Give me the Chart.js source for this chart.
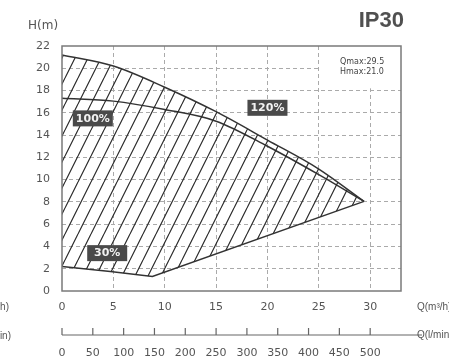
<!DOCTYPE html>
<html>
<head>
<meta charset="utf-8">
<script src="https://cdn.jsdelivr.net/npm/chart.js@4.4.0/dist/chart.umd.min.js"></script>
<style>
  html, body { margin: 0; padding: 0; background: #fff; }
  #wrap { width: 449px; height: 363px; }
</style>
</head>
<body>
<div id="wrap"><canvas id="pump-chart"></canvas></div>
<script>
// flow Q (m3/h) and head H (m)
const flow120 = [0, 5, 10, 15, 20, 25, 29.4]
const head120 = [21.2, 20.2, 18.3, 16.1, 13.55, 10.95, 8.05]
const flow100 = [0, 5, 10, 15, 20, 25, 29.4]
const head100 = [17.3, 17.05, 16.3, 15.25, 13.0, 10.45, 8.05]
const flow30 = [0, 4.7, 8.8, 29.4]
const head30 = [2.2, 1.75, 1.3, 8.05]

// speed tags in the chart
const speedLabels = ['100%', '120%', '30%']
const labelFlow = [3.0, 20.0, 4.4]
const labelHead = [15.5, 16.45, 3.4]

// axis ticks
const headTicks = [0, 2, 4, 6, 8, 10, 12, 14, 16, 18, 20, 22]
const flowTicks = [0, 5, 10, 15, 20, 25, 30]
const lpmTicks = [0, 50, 100, 150, 200, 250, 300, 350, 400, 450, 500]

const modelName = 'IP30'
const qmax = '29.5'
const hmax = '21.0'

const textColor = '#555'
const tickFont = { family: 'DejaVu Sans', size: 11 }

const toPoints = (xs, ys) => xs.map((x, i) => ({ x: x, y: ys[i] }))

// diagonal hatching for the working area
const makeHatch = () => {
    const c = document.createElement('canvas')
    c.width = 13
    c.height = 26
    const g = c.getContext('2d')
    g.strokeStyle = '#2a2a2a'
    g.lineWidth = 1.2
    g.beginPath()
    for (let k = -1; k <= 1; k++) {
        g.moveTo(k * 13, 26)
        g.lineTo(k * 13 + 13, 0)
    }
    g.stroke()
    return g.createPattern(c, 'repeat')
}

const extras = {
    id: 'extras',
    afterDraw(chart) {
        const ctx = chart.ctx
        const area = chart.chartArea
        const xs = chart.scales.x
        const ys = chart.scales.y
        const x2 = chart.scales.x2
        ctx.save()

        // white box behind Qmax / Hmax
        const bx = xs.getPixelForValue(25.2)
        const by = ys.getPixelForValue(18.2)
        ctx.fillStyle = '#fff'
        ctx.fillRect(bx, area.top, area.right - bx, by - area.top)
        ctx.fillStyle = '#444'
        ctx.font = '8px "DejaVu Sans"'
        ctx.textAlign = 'left'
        ctx.textBaseline = 'middle'
        ctx.fillText('Qmax:' + qmax, 340, 62)
        ctx.fillText('Hmax:' + hmax, 340, 72)

        // frame
        ctx.strokeStyle = '#7a7a7a'
        ctx.lineWidth = 1.5
        ctx.strokeRect(area.left, area.top, area.right - area.left, area.bottom - area.top)

        // speed tags
        ctx.font = 'bold 11px "DejaVu Sans"'
        ctx.textAlign = 'center'
        speedLabels.forEach((t, i) => {
            const px = xs.getPixelForValue(labelFlow[i])
            const py = ys.getPixelForValue(labelHead[i])
            ctx.fillStyle = '#4a4a4a'
            ctx.fillRect(px - 20, py - 8, 40, 16)
            ctx.fillStyle = '#f2f2f2'
            ctx.fillText(t, px, py + 0.5)
        })

        // second flow axis line with upward ticks
        const ly = 335
        ctx.strokeStyle = '#666'
        ctx.lineWidth = 1.2
        ctx.beginPath()
        ctx.moveTo(area.left, ly)
        ctx.lineTo(422, ly)
        lpmTicks.forEach(v => {
            const px = x2.getPixelForValue(v)
            ctx.moveTo(px, ly)
            ctx.lineTo(px, ly - 7)
        })
        ctx.stroke()

        // titles
        ctx.fillStyle = textColor
        ctx.textAlign = 'left'
        ctx.font = '10px "Liberation Sans"'
        ctx.fillText('Q(m³/h)', 417, 307)
        ctx.fillText('Q(l/min)', 417, 335)
        ctx.textAlign = 'right'
        ctx.fillText('Q(m³/h)', 9, 307)
        ctx.fillText('Q(l/min)', 11, 336)
        ctx.textAlign = 'left'
        ctx.font = '12px "DejaVu Sans"'
        ctx.fillText('H(m)', 28, 26)
        ctx.font = 'bold 22px "Liberation Sans"'
        ctx.textAlign = 'right'
        ctx.fillStyle = '#505050'
        ctx.fillText(modelName, 404, 21)
        ctx.restore()
    }
}

const hideEdge = (lo, hi) => (c) => {
    const v = c.tick ? c.tick.value : null
    return (v === lo || v === hi) ? 'rgba(0,0,0,0)' : '#aaa'
}

new Chart(document.getElementById('pump-chart'), {
    type: 'line',
    data: {
        datasets: [{
            label: '120%',
            data: toPoints(flow120, head120),
            borderColor: '#333',
            borderWidth: 1.5,
            backgroundColor: makeHatch(),
            fill: 2,
            cubicInterpolationMode: 'monotone',
            pointRadius: 0
        }, {
            label: '100%',
            data: toPoints(flow100, head100),
            borderColor: '#333',
            borderWidth: 1.5,
            fill: false,
            cubicInterpolationMode: 'monotone',
            pointRadius: 0
        }, {
            label: '30%',
            data: toPoints(flow30, head30),
            borderColor: '#333',
            borderWidth: 1.5,
            fill: false,
            tension: 0,
            pointRadius: 0
        }]
    },
    options: {
        responsive: true,
        maintainAspectRatio: false,
        animation: false,
        layout: { padding: { top: 46, right: 48, left: 0, bottom: 0 } },
        plugins: {
            legend: { display: false },
            tooltip: { enabled: false }
        },
        scales: {
            x: {
                type: 'linear',
                position: 'bottom',
                min: 0,
                max: 33,
                afterBuildTicks: s => { s.ticks = flowTicks.map(v => ({ value: v })) },
                afterFit: s => { s.height = 30 },
                grid: { color: hideEdge(0, 33), lineWidth: 1, drawTicks: false },
                border: { display: false, dash: [4, 3] },
                ticks: { color: textColor, font: tickFont, padding: 10, maxRotation: 0 }
            },
            x2: {
                type: 'linear',
                position: 'bottom',
                min: 0,
                max: 550,
                afterBuildTicks: s => { s.ticks = lpmTicks.map(v => ({ value: v })) },
                afterFit: s => { s.height = 42 },
                grid: { display: false, drawTicks: false },
                border: { display: false },
                ticks: { color: textColor, font: tickFont, padding: 26, maxRotation: 0 }
            },
            y: {
                min: 0,
                max: 22,
                afterBuildTicks: s => { s.ticks = headTicks.map(v => ({ value: v })) },
                afterFit: s => { s.width = 62 },
                grid: { color: hideEdge(0, 22), lineWidth: 1, drawTicks: false },
                border: { display: false, dash: [4, 3] },
                ticks: { color: textColor, font: tickFont, padding: 12 }
            }
        }
    },
    plugins: [extras]
});
</script>
</body>
</html>
